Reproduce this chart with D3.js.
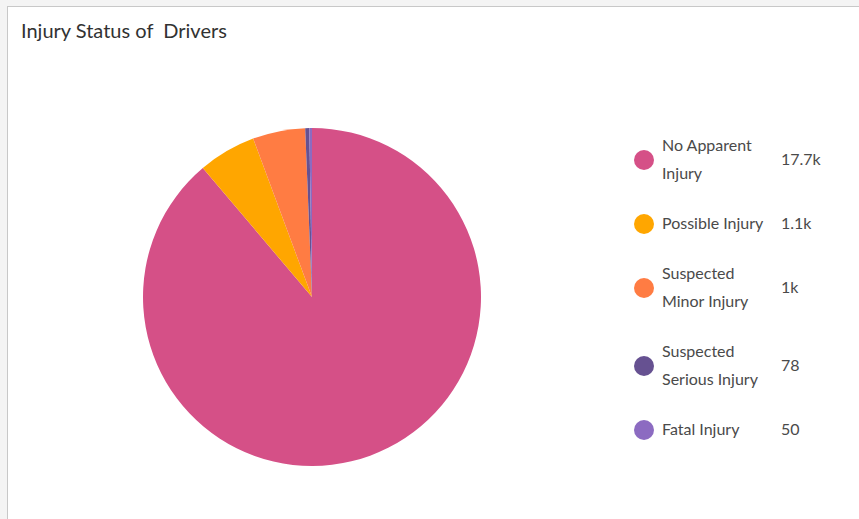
<!DOCTYPE html>
<html>
  <head>
    <script src="https://cdn.jsdelivr.net/npm/d3@7"></script>
    <style>
      body { margin: 0; background: #f4f4f4; }
      text { font-family: Lato, "Open Sans", sans-serif; white-space: pre; }
    </style>
  </head>
  <body>
    <script>
// chart data
var categories = ["No Apparent Injury", "Possible Injury", "Suspected Minor Injury", "Suspected Serious Injury", "Fatal Injury"];
var values = [17700, 1100, 1000, 78, 50];
var colors = ["#d55087", "#ffa600", "#ff7c43", "#665191", "#8c6bc1"];
var title = "Injury Status of  Drivers";

var width = 859, height = 519;
var cx = 312, cy = 297, radius = 169;

var svg = d3.select("body").append("svg")
  .attr("width", width)
  .attr("height", height)
  .style("display", "block");

// panel
svg.append("rect")
  .attr("x", 7.5).attr("y", 6.5)
  .attr("width", width).attr("height", height)
  .attr("fill", "#fff")
  .attr("stroke", "#c8c8c8");

svg.append("text")
  .attr("x", 21).attr("y", 38)
  .attr("font-size", 20)
  .attr("fill", "#323232")
  .text(title);

var data = categories.map((c, i) => ({ name: c, value: values[i], color: colors[i] }));

var pie = d3.pie().sort(null).value(d => d.value);
var arc = d3.arc().innerRadius(0).outerRadius(radius);

svg.append("g")
  .attr("transform", "translate(" + cx + "," + cy + ")")
  .selectAll("path")
  .data(pie(data))
  .join("path")
  .attr("d", arc)
  .attr("fill", d => d.data.color);

// legend
var fmt = d3.format(".3~s");
var fs = 16;
var measure = svg.append("text").attr("font-size", fs).attr("visibility", "hidden");
function wrap(str, maxW) {
  var words = str.split(" "), lines = [], cur = "";
  words.forEach(w => {
    var t = cur ? cur + " " + w : w;
    measure.text(t);
    if (cur && measure.node().getComputedTextLength() > maxW) { lines.push(cur); cur = w; }
    else cur = t;
  });
  lines.push(cur);
  return lines;
}

var lineH = 28, itemGap = 50;
var y = 145;
var legend = svg.append("g");
data.forEach(d => {
  var lines = wrap(d.name, 108);
  var mid = y + (lines.length - 1) * lineH / 2;
  var g = legend.append("g");
  g.append("circle")
    .attr("cx", 644).attr("cy", mid + 1).attr("r", 10)
    .attr("fill", d.color);
  g.selectAll("text.lbl")
    .data(lines)
    .join("text")
    .attr("class", "lbl")
    .attr("x", 662)
    .attr("y", (l, i) => y + i * lineH)
    .attr("dy", "0.35em")
    .attr("font-size", fs)
    .attr("fill", "#4a4a4a")
    .text(l => l);
  g.append("text")
    .attr("x", 781).attr("y", mid)
    .attr("dy", "0.35em")
    .attr("font-size", fs)
    .attr("fill", "#4a4a4a")
    .text(fmt(d.value));
  y += (lines.length - 1) * lineH + itemGap;
});
measure.remove();
    </script>
  </body>
</html>
